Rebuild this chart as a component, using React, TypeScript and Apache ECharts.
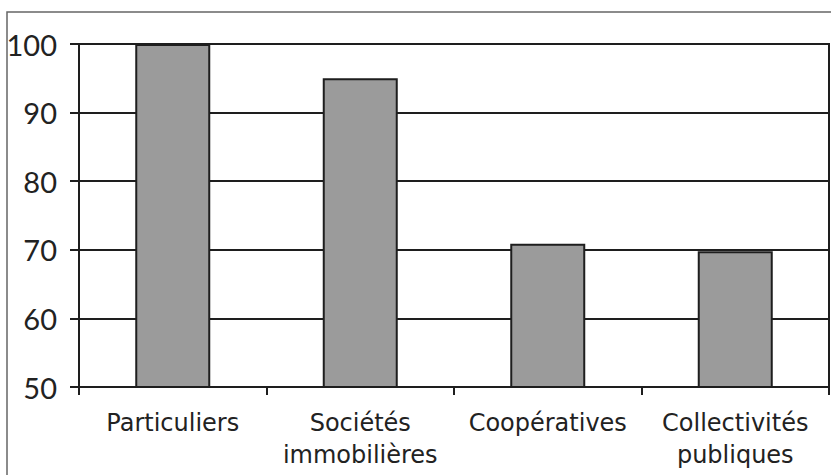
import React, { useEffect, useRef } from "react";
import * as echarts from "echarts";

const categories = ["Particuliers", "Sociétés\nimmobilières", "Coopératives", "Collectivités\npubliques"];
const values = [100, 95, 70.9, 69.8];
const yTicks = [50, 60, 70, 80, 90, 100];

export default function App() {
  const ref = useRef<HTMLDivElement>(null);
  useEffect(() => {
    const chart = echarts.init(ref.current!, null, { renderer: "svg" });
    chart.setOption({
      animation: false,
      backgroundColor: "#ffffff",
      grid: {
        left: 79,
        right: 2,
        top: 44,
        bottom: 88,
        show: true,
        borderColor: "#1e1e1e",
        borderWidth: 2,
      },
      xAxis: {
        type: "category",
        data: categories,
        axisLine: { lineStyle: { color: "#1e1e1e", width: 2 } },
        axisTick: { show: true, length: 8, alignWithLabel: false, lineStyle: { color: "#1e1e1e", width: 2 } },
        axisLabel: {
          color: "#222",
          fontFamily: "DejaVu Sans",
          fontSize: 24,
          lineHeight: 32,
          margin: 20,
          interval: 0,
        },
      },
      yAxis: {
        type: "value",
        min: yTicks[0],
        max: yTicks[yTicks.length - 1],
        interval: 10,
        axisLine: { show: true, lineStyle: { color: "#1e1e1e", width: 2 } },
        axisTick: { show: true, length: 9, lineStyle: { color: "#1e1e1e", width: 2 } },
        splitLine: { lineStyle: { color: "#1e1e1e", width: 2 } },
        axisLabel: {
          color: "#222",
          fontFamily: "Lato",
          fontSize: 29,
          margin: 22,
        },
      },
      series: [
        {
          type: "bar",
          data: values,
          barWidth: 75,
          itemStyle: { color: "#9b9b9b", borderColor: "#1e1e1e", borderWidth: 2 },
        },
      ],
      graphic: [
        {
          type: "polyline",
          shape: { points: [[7, 475], [7, 12], [831, 12]] },
          style: { stroke: "#666", lineWidth: 1.5, fill: "none" },
          silent: true,
        },
      ],
    });
    return () => chart.dispose();
  }, []);
  return (
    <div
      ref={ref}
      style={{ position: "fixed", left: 0, top: 0, width: 831, height: 475, background: "#fff" }}
    />
  );
}
